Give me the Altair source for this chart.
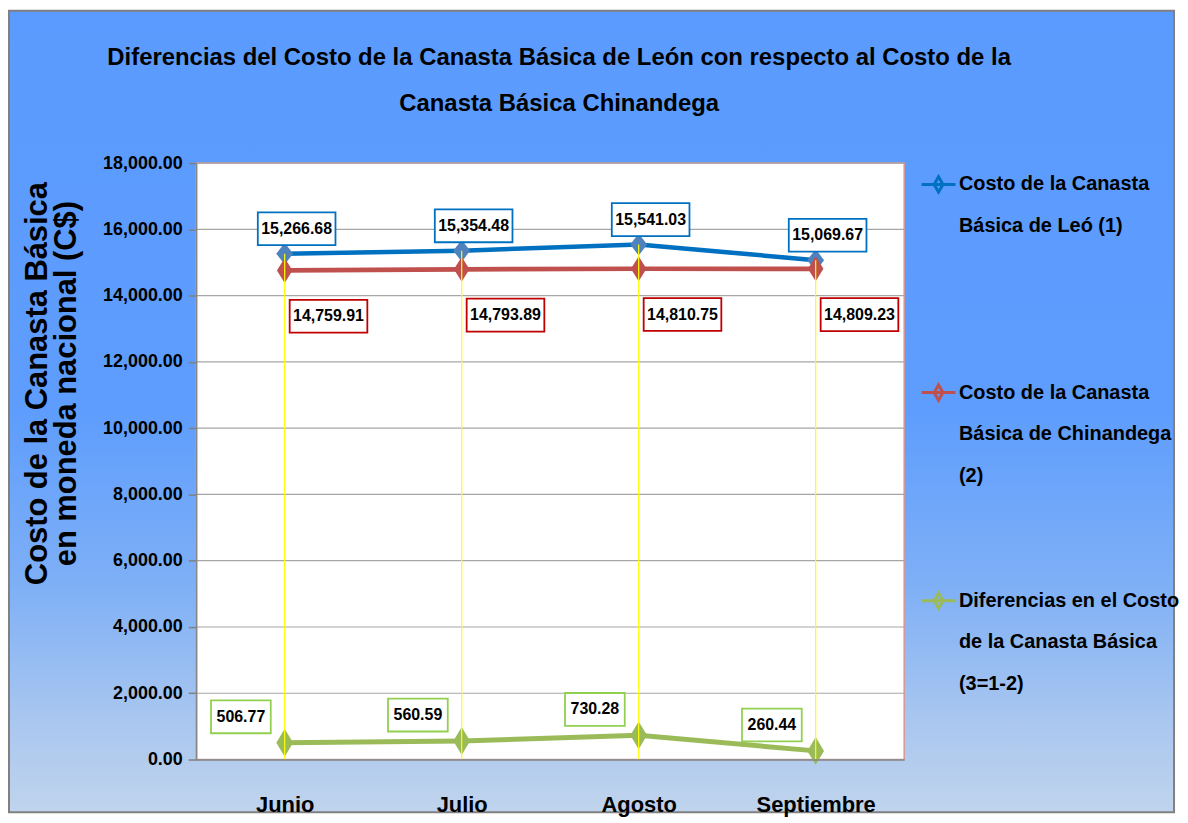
import altair as alt
import pandas as pd

MONTHS = ["Junio", "Julio", "Agosto", "Septiembre"]
LEON = [15266.68, 15354.48, 15541.03, 15069.67]
CHINANDEGA = [14759.91, 14793.89, 14810.75, 14809.23]
DIFERENCIA = [506.77, 560.59, 730.28, 260.44]
SERIES = [
    "Costo de la Canasta Básica de Leó  (1)",
    "Costo de la Canasta Básica de Chinandega (2)",
    "Diferencias en el Costo de la Canasta Básica (3=1-2)",
]
SERIES_FIRST_LINE = ["Costo de la Canasta", "Costo de la Canasta", "Diferencias en el Costo"]
SERIES_MORE_LINES = [["Básica de Leó  (1)"], ["Básica de Chinandega", "(2)"], ["de la Canasta Básica", "(3=1-2)"]]
Y_TICKS = [0, 2000, 4000, 6000, 8000, 10000, 12000, 14000, 16000, 18000]
TITLE_LINES = [
    "Diferencias  del Costo de la Canasta Básica de León con respecto al Costo de la",
    "Canasta Básica Chinandega",
]
Y_TITLE_LINES = ["Costo de la Canasta Básica", "en moneda nacional (C$)"]

# ---- styling ----
FONT = "Liberation Sans, Arial, sans-serif"
LINE_COLORS = ["#0070C0", "#C0504D", "#9BBB59"]
MARKER_COLORS = ["#4F81BD", "#C0504D", "#9BBB59"]
BOX_COLORS = ["#0070C0", "#C00000", "#92D050"]
W, H = 711, 599

df = pd.DataFrame({
    "month": MONTHS * 3,
    "series": [SERIES[0]] * 4 + [SERIES[1]] * 4 + [SERIES[2]] * 4,
    "value": LEON + CHINANDEGA + DIFERENCIA,
})

# legend rows: one symbol row per series, continuation rows, and blank spacer rows
legend_keys, legend_colors = [], []
spacers = [3, 2, 0]
sp = 0
for i, s in enumerate(SERIES):
    legend_keys.append(s)
    legend_colors.append(LINE_COLORS[i])
    for ln in SERIES_MORE_LINES[i]:
        legend_keys.append(ln)
        legend_colors.append("transparent")
    for _ in range(spacers[i]):
        sp += 1
        legend_keys.append("_" + str(sp))
        legend_colors.append("transparent")

expr = ""
for s, f in zip(SERIES, SERIES_FIRST_LINE):
    expr += "datum.label == '" + s + "' ? '" + f + "' : "
expr += "slice(datum.label, 0, 1) == '_' ? '\u00a0' : datum.label"

x_enc = alt.X("month:N", sort=MONTHS, scale=alt.Scale(type="point", padding=0.5),
              axis=alt.Axis(title=None, labelAngle=0, labelFont=FONT, labelFontSize=22,
                            labelFontWeight="bold", labelColor="black", ticks=False,
                            labelPadding=35, domainColor="#868686", domainWidth=1.5,
                            grid=False, zindex=1))
y_scale = alt.Scale(domain=[0, 18000], nice=False, zero=True)
y_axis = alt.Axis(values=Y_TICKS, format=",.2f", grid=False, labelFont=FONT,
                  labelFontSize=18, labelFontWeight="bold", labelColor="black",
                  tickColor="#808080", tickSize=8, tickWidth=1.5, labelPadding=6,
                  domainColor="#868686", domainWidth=1.5,
                  title=Y_TITLE_LINES, titleFont=FONT, titleFontSize=31,
                  titleFontWeight="bold", titleColor="black", titleLineHeight=29,
                  titleX=-143, titleY=221, zindex=1)
y_enc = alt.Y("value:Q", scale=y_scale, axis=y_axis)

one = pd.DataFrame({"k": [0]})
gradient = alt.LinearGradient(
    gradient="linear", x1=0, x2=0, y1=0, y2=1,
    stops=[alt.GradientStop(color="#5B9BFF", offset=0),
           alt.GradientStop(color="#5E9DFD", offset=0.5),
           alt.GradientStop(color="#7FB0F6", offset=0.72),
           alt.GradientStop(color="#AAC7EF", offset=0.89),
           alt.GradientStop(color="#C0D4EC", offset=1)])
bg = alt.Chart(one).mark_rect(fill=gradient, stroke="#808080", strokeWidth=2).encode(
    x=alt.value(-188), x2=alt.value(982), y=alt.value(-153), y2=alt.value(652))
plot_bg = alt.Chart(one).mark_rect(fill="white", stroke="#D99694", strokeWidth=1.5).encode(
    x=alt.value(0), x2=alt.value(W), y=alt.value(0), y2=alt.value(H))

grid = alt.Chart(pd.DataFrame({"value": Y_TICKS})).mark_rule(color="#A6A6A6", strokeWidth=1.2).encode(
    y=y_enc, x=alt.value(0), x2=alt.value(W))

legend = alt.Legend(
    title=None, orient="none", legendX=727, legendY=3, padding=0,
    symbolType="M-1,0H1M0,-0.45L0.26,0L0,0.45L-0.26,0Z", symbolSize=1156,
    symbolStrokeWidth=3, labelFont=FONT, labelFontSize=20, labelFontWeight="bold",
    labelColor="black", labelOffset=2, labelLimit=224, rowPadding=8.8,
    labelExpr=expr)

lines = alt.Chart(df).mark_line().encode(
    x=x_enc, y=y_enc,
    stroke=alt.Stroke("series:N", scale=alt.Scale(domain=legend_keys, range=legend_colors),
                      legend=legend),
    strokeWidth=alt.StrokeWidth("series:N", scale=alt.Scale(domain=SERIES, range=[4.5, 5, 6]),
                                legend=None),
)

points = alt.Chart(df).mark_point(filled=True, opacity=1, strokeWidth=0).encode(
    x=alt.X("month:N", sort=MONTHS), y=y_enc,
    fill=alt.Fill("series:N", scale=alt.Scale(domain=SERIES, range=MARKER_COLORS), legend=None),
    shape=alt.Shape("series:N", scale=alt.Scale(domain=SERIES, range=[
        "M0,-1L0.77,0L0,1L-0.77,0Z", "M0,-1L0.62,0L0,1L-0.62,0Z", "M0,-1L0.6,0L0,1L-0.6,0Z"]),
        legend=None),
    size=alt.Size("series:N", scale=alt.Scale(domain=SERIES, range=[484, 784, 1024]), legend=None),
)

drops = alt.Chart(df).transform_filter(alt.datum.series == SERIES[0]).mark_rule(
    color="#FFFF00", strokeWidth=1.2).encode(
    x=alt.X("month:N", sort=MONTHS), y=y_enc, y2=alt.datum(0))

label_layers = []
offsets = [(12, -25), (44, 46), (-44, -26)]
box_w = [78, 78, 60]
for i, s in enumerate(SERIES):
    dx, dy = offsets[i]
    r = 33 / box_w[i]
    path = "M-1,-%.3fH1V%.3fH-1Z" % (r, r)
    base = alt.Chart(df).transform_filter(alt.datum.series == s)
    box = base.mark_point(shape=path, size=box_w[i] ** 2, filled=True, fill="white",
                          stroke=BOX_COLORS[i], strokeWidth=1.8, opacity=1,
                          xOffset=dx, yOffset=dy).encode(
        x=alt.X("month:N", sort=MONTHS), y=y_enc)
    txt = base.mark_text(font=FONT, fontSize=16, fontWeight="bold", color="black",
                         dx=dx, dy=dy, align="center", baseline="middle").encode(
        x=alt.X("month:N", sort=MONTHS), y=y_enc,
        text=alt.Text("value:Q", format=",.2f"))
    label_layers += [box, txt]

chart = alt.layer(bg, plot_bg, grid, lines, points, drops, *label_layers).properties(
    width=W, height=H, padding=0,
    title=alt.TitleParams(text=TITLE_LINES, font=FONT, fontSize=24, fontWeight="bold",
                          color="black", lineHeight=46, anchor="middle", frame="group",
                          offset=-107, dx=9),
).configure_view(stroke=None).configure(background="white")

chart.save("out.html", embed_options={"renderer": "svg", "actions": False})
